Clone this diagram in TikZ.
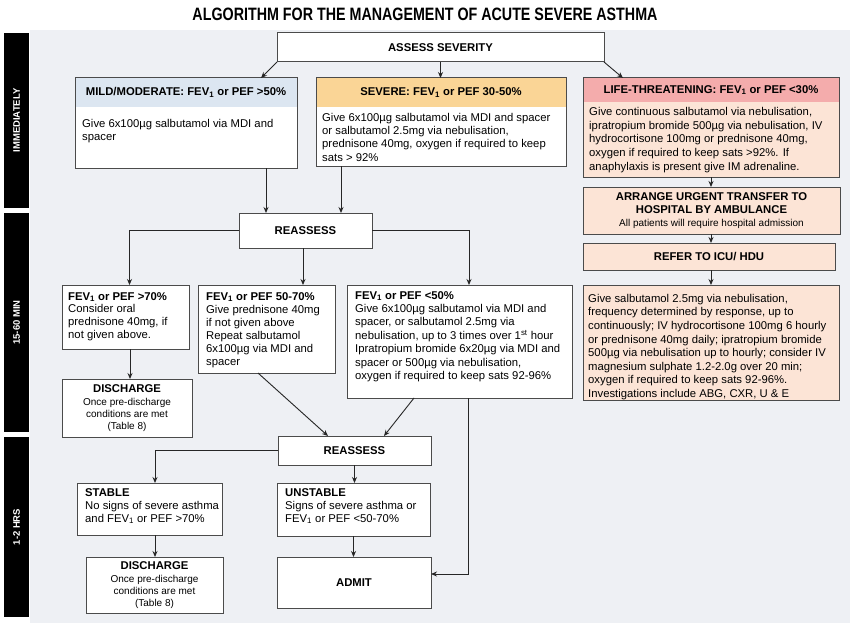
\documentclass[tikz,border=0pt]{standalone}
\usepackage{fontspec}
\setmainfont{Liberation Sans}
\usepackage{graphicx}
\usetikzlibrary{arrows.meta}

\definecolor{panel}{RGB}{238,240,244}
\definecolor{boxline}{RGB}{75,75,75}
\definecolor{mildblue}{RGB}{220,230,241}
\definecolor{sevorange}{RGB}{250,213,150}
\definecolor{lifepink}{RGB}{244,172,172}
\definecolor{peach}{RGB}{252,228,214}

\newcommand\fsbody{\fontsize{11.3}{13.3}\selectfont}
\newcommand\fssmall{\fontsize{10}{11.8}\selectfont}

\tikzset{
  box/.style={draw=boxline, line width=1pt, fill=white, inner sep=0pt, outer sep=0pt,
              anchor=north west, align=center, font=\fsbody},
  headfill/.style 2 args={path picture={\fill[#1] (path picture bounding box.north west)
              rectangle ([yshift=-#2]path picture bounding box.north east);}},
  hd/.style={inner sep=0pt, font=\fsbody\bfseries},
  txt/.style={anchor=north west, align=left, inner sep=0pt, font=\fsbody},
  arr/.style={->, >={Stealth[length=6pt,width=5pt]}, line width=0.9pt, black!85},
  timebar/.style={fill=black, text=white, rotate=90, inner sep=0pt,
              font=\fontsize{9.5}{11}\selectfont\bfseries},
}

\begin{document}
\begin{tikzpicture}[x=1pt,y=-1pt]
\useasboundingbox (0,0) rectangle (850,623);
\fill[panel] (30,30) rectangle (850,623);

% title
\node (title) at (425,14.5) {\resizebox{465pt}{12.5pt}{\bfseries ALGORITHM FOR THE MANAGEMENT OF ACUTE SEVERE ASTHMA}};

% time bars
\node[timebar, minimum width=175pt, minimum height=25pt] (immed) at (16.5,120.5) {IMMEDIATELY};
\node[timebar, minimum width=219pt, minimum height=25pt] (mins) at (16.5,322.5) {15-60 MIN};
\node[timebar, minimum width=180pt, minimum height=25pt] (hrs) at (16.5,527) {1-2 HRS};

% immediately
\node[box, minimum width=327pt, minimum height=29pt, font=\fsbody\bfseries] (assess) at (277,33) {ASSESS SEVERITY};

\node[box, headfill={mildblue}{29pt}, minimum width=222pt, minimum height=90pt] (mild) at (75,78) {};
\node[hd] (mildhd) at ([yshift=-14.5pt]mild.north) {MILD/MODERATE: FEV\textsubscript{1} or PEF >50\%};
\node[txt] (mildtxt) at (82,119) {Give 6x100µg salbutamol via MDI and\\spacer};

\node[box, headfill={sevorange}{29pt}, minimum width=250pt, minimum height=88pt] (severe) at (316,78) {};
\node[hd] (severehd) at ([yshift=-14.5pt]severe.north) {SEVERE: FEV\textsubscript{1} or PEF 30-50\%};
\node[txt] (severetxt) at (322,113) {Give 6x100µg salbutamol via MDI and spacer\\or salbutamol 2.5mg via nebulisation,\\prednisone 40mg, oxygen if required to keep\\sats > 92\%};

\node[box, fill=peach, headfill={lifepink}{24pt}, minimum width=256pt, minimum height=99pt] (life) at (583,78) {};
\node[hd] (lifehd) at ([yshift=-12pt]life.north) {LIFE-THREATENING: FEV\textsubscript{1} or PEF <30\%};
\node[txt, font=\fontsize{11.3}{13.8}\selectfont] (lifetxt) at (589,107) {Give continuous salbutamol via nebulisation,\\ipratropium bromide 500µg via nebulisation, IV\\hydrocortisone 100mg or prednisone 40mg,\\oxygen if required to keep sats >92\%. If\\anaphylaxis is present give IM adrenaline.};

\node[box, fill=peach, minimum width=257pt, minimum height=47pt] (arrange) at (583,187) {\textbf{ARRANGE URGENT TRANSFER TO}\\\textbf{HOSPITAL BY AMBULANCE}\\{\fssmall All patients will require hospital admission}};
\node[box, fill=peach, minimum width=252pt, minimum height=27pt, font=\fsbody\bfseries] (refer) at (583,243) {REFER TO ICU/ HDU};
\node[box, fill=peach, minimum width=256pt, minimum height=115pt] (give) at (583,285) {};
\node[txt, font=\fontsize{11.3}{13.6}\selectfont] (givetxt) at (588,294) {Give salbutamol 2.5mg via nebulisation,\\frequency determined by response, up to\\continuously; IV hydrocortisone 100mg 6 hourly\\or prednisone 40mg daily; ipratropium bromide\\500µg via nebulisation up to hourly; consider IV\\magnesium sulphate 1.2-2.0g over 20 min;\\oxygen if required to keep sats 92-96\%.\\Investigations include ABG, CXR, U \& E};

% 15-60 min
\node[box, minimum width=133pt, minimum height=35pt, font=\fsbody\bfseries] (reass1) at (239,213) {REASSESS};

\node[box, minimum width=127pt, minimum height=64pt] (hi) at (62,285) {};
\node[txt, font=\fontsize{11.3}{12.8}\selectfont] (hitxt) at (68,292) {\textbf{FEV\textsubscript{1} or PEF >70\%}\\Consider oral\\prednisone 40mg, if\\not given above.};

\node[box, minimum width=137pt, minimum height=88pt] (mid) at (198,285) {};
\node[txt, font=\fontsize{11.3}{13}\selectfont] (midtxt) at (206,292) {\textbf{FEV\textsubscript{1} or PEF 50-70\%}\\Give prednisone 40mg\\if not given above\\Repeat salbutamol\\6x100µg via MDI and\\spacer};

\node[box, minimum width=225pt, minimum height=113pt] (lo) at (347,285) {};
\node[txt, font=\fontsize{11.3}{13.4}\selectfont] (lotxt) at (355,291) {\textbf{FEV\textsubscript{1} or PEF <50\%}\\Give 6x100µg salbutamol via MDI and\\spacer, or salbutamol 2.5mg via\\nebulisation, up to 3 times over 1\textsuperscript{st} hour\\Ipratropium bromide 6x20µg via MDI and\\spacer or 500µg via nebulisation,\\oxygen if required to keep sats 92-96\%};

\node[box, minimum width=130pt, minimum height=58pt, font=\fssmall] (dis1) at (62,379) {{\fsbody\bfseries DISCHARGE}\\[1pt]Once pre-discharge\\conditions are met\\(Table 8)};

% 1-2 hrs
\node[box, minimum width=153pt, minimum height=29pt, font=\fsbody\bfseries] (reass2) at (278,436) {REASSESS};

\node[box, minimum width=145pt, minimum height=52pt] (stable) at (77,483) {};
\node[txt, font=\fontsize{11.3}{13}\selectfont] (stabletxt) at (85,488) {\textbf{STABLE}\\No signs of severe asthma\\and FEV\textsubscript{1} or PEF >70\%};

\node[box, minimum width=153pt, minimum height=53pt] (unstable) at (277,483) {};
\node[txt, font=\fontsize{11.3}{13}\selectfont] (unstabletxt) at (285,488) {\textbf{UNSTABLE}\\Signs of severe asthma or\\FEV\textsubscript{1} or PEF <50-70\%};

\node[box, minimum width=137pt, minimum height=56pt, font=\fssmall] (dis2) at (86,557) {{\fsbody\bfseries DISCHARGE}\\[1pt]Once pre-discharge\\conditions are met\\(Table 8)};
\node[box, minimum width=154pt, minimum height=51pt, font=\fsbody\bfseries] (admit) at (277,557) {ADMIT};

% connectors
\draw[arr] (assess.south west) -- ([xshift=-36pt]mild.north east);
\draw[arr] (assess.south) -- (assess.south |- severe.north);
\draw[arr] (assess.south east) -- ([xshift=40pt]life.north west);
\draw[arr] ([xshift=-31pt]mild.south east) -- ([xshift=27pt]reass1.north west);
\draw[arr] ([xshift=25pt]severe.south west) -- ([xshift=-31pt]reass1.north east);
\draw[arr] (life.south) -- (life.south |- arrange.north);
\draw[arr] (life.south |- arrange.south) -- (life.south |- refer.north);
\draw[arr] (life.south |- refer.south) -- (life.south |- give.north);

\draw[arr] (reass1.west) -| ([xshift=4pt]hi.north);
\draw[arr] ([xshift=-2.5pt]reass1.south) -- ([xshift=105pt]mid.north west);
\draw[arr] (reass1.east) -| ([xshift=122pt]lo.north west);
\draw[arr] ([xshift=4.5pt]hi.south) -- ([xshift=3pt]dis1.north);
\draw[arr] ([xshift=60pt]mid.south west) -- ([xshift=50pt]reass2.north west);
\draw[arr] ([xshift=67pt]lo.south west) -- ([xshift=-47pt]reass2.north east);

\draw[arr] (reass2.west) -| ([xshift=5.5pt]stable.north);
\draw[arr] (reass2.south) -- (reass2.south |- unstable.north);
\draw[arr] ([xshift=5.5pt]stable.south) -- ([xshift=0.5pt]dis2.north);
\draw[arr] (unstable.south) -- (unstable.south |- admit.north);
\draw[arr] ([xshift=121pt]lo.south west) |- ([yshift=8.5pt]admit.east);
\end{tikzpicture}
\end{document}
